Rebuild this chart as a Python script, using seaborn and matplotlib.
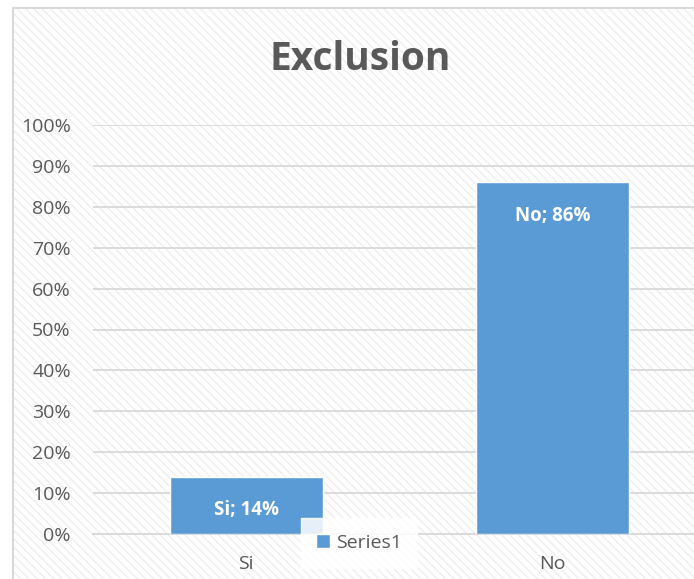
import numpy as np
import matplotlib.pyplot as plt
import pandas as pd
import seaborn as sns
from matplotlib.patches import Rectangle
from matplotlib.ticker import PercentFormatter

# Chart data
categories = ["Si", "No"]
values = [0.14, 0.86]
series_name = "Series1"

df = pd.DataFrame({"cat": categories, "val": values, "series": series_name})

sns.set_style("white")
plt.rcParams["font.family"] = ["Open Sans", "DejaVu Sans"]
plt.rcParams["hatch.color"] = "#eeeeee"
plt.rcParams["hatch.linewidth"] = 1.0

fig = plt.figure(figsize=(6.94, 5.79), dpi=100)

# hatched chart background with light border
bg = Rectangle((13 / 694, 0), 1, 1 - 8 / 579, transform=fig.transFigure,
               facecolor="white", edgecolor="#eeeeee", hatch="\\\\\\\\",
               linewidth=0, zorder=0)
fig.patches.append(bg)
border = Rectangle((13 / 694, -0.01), 1, 1 - 8 / 579 + 0.01, transform=fig.transFigure,
                   facecolor="none", edgecolor="#d9d9d9", linewidth=1.5, zorder=1)
fig.patches.append(border)

ax = fig.add_axes([93 / 694, 45 / 579, 613 / 694, 409 / 579])
ax.set_zorder(5)
ax.patch.set_visible(False)

sns.barplot(data=df, x="cat", y="val", hue="series", palette=["#5B9BD5"],
            width=0.5, ax=ax, zorder=3, legend=True, saturation=1)

ax.set_ylim(0, 1.0)
ax.set_xlim(-0.5, 1.5)
ax.set_yticks(np.arange(0, 1.01, 0.1))
ax.yaxis.set_major_formatter(PercentFormatter(1.0, decimals=0))
ax.grid(axis="y", color="#d9d9d9", linewidth=1.3, zorder=0)
ax.set_axisbelow(True)
for s in ["top", "right", "left"]:
    ax.spines[s].set_visible(False)
ax.spines["bottom"].set_color("#d9d9d9")
ax.spines["bottom"].set_linewidth(1.3)
ax.tick_params(axis="both", length=0, labelsize=14, labelcolor="#595959")
ax.tick_params(axis="y", pad=16)
ax.tick_params(axis="x", pad=15)
ax.set_xlabel("")
ax.set_ylabel("")

# data labels inside bars
for cat, v in zip(categories, values):
    ax.annotate(f"{cat}; {int(round(v * 100))}%", xy=(categories.index(cat), v),
                xytext=(0, -24), textcoords="offset points", ha="center",
                va="center", color="white", fontsize=13.5, fontweight="bold",
                zorder=5)

leg = ax.legend(loc="center", bbox_to_anchor=(359 / 694, 1 - 543 / 579),
                bbox_transform=fig.transFigure, frameon=True, fancybox=False,
                edgecolor="white", framealpha=0.85, fontsize=14,
                handlelength=0.7, handleheight=0.7, handletextpad=0.3,
                borderpad=0.8)
for t in leg.get_texts():
    t.set_color("#595959")

fig.text(360 / 694, 1 - 60 / 579, "Exclusion", ha="center", va="center",
         fontsize=28, fontweight="bold", color="#595959")

fig.savefig("out.png", dpi=100)
